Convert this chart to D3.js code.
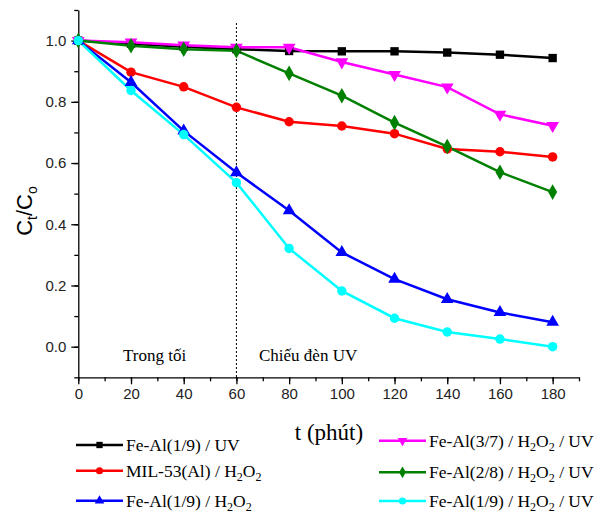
<!DOCTYPE html>
<html>
<head>
<meta charset="utf-8">
<script src="https://cdn.jsdelivr.net/npm/d3@7"></script>
<style>
  body { margin: 0; background: #fff; }
  .tick text { font-family: "Liberation Sans", Arial, sans-serif; font-size: 15px; fill: #222; }
  .serif { font-family: "Liberation Serif", "Times New Roman", serif; }
</style>
</head>
<body>
<div class="chart-container"></div>
<script>
// Data
const times = [0, 20, 40, 60, 80, 100, 120, 140, 160, 180];
const feAl19UV     = [1.0, 0.99, 0.98, 0.972, 0.966, 0.965, 0.965, 0.961, 0.954, 0.943];
const mil53H2O2    = [1.0, 0.897, 0.849, 0.782, 0.735, 0.721, 0.696, 0.646, 0.637, 0.620];
const feAl19H2O2   = [1.0, 0.864, 0.705, 0.569, 0.445, 0.308, 0.221, 0.155, 0.112, 0.080];
const feAl37H2O2UV = [1.0, 0.995, 0.985, 0.978, 0.978, 0.930, 0.889, 0.848, 0.759, 0.722];
const feAl28H2O2UV = [1.0, 0.983, 0.972, 0.967, 0.893, 0.820, 0.732, 0.654, 0.570, 0.505];
const feAl19H2O2UV = [1.0, 0.837, 0.693, 0.536, 0.321, 0.182, 0.093, 0.048, 0.025, 0.0];
const xTicks = [0, 20, 40, 60, 80, 100, 120, 140, 160, 180];
const yTicks = [0.0, 0.2, 0.4, 0.6, 0.8, 1.0];

const series = [
  { name: "Fe-Al(1/9) / UV", values: feAl19UV, color: "#000000", symbol: d3.symbolSquare, col: 0, row: 0 },
  { name: "MIL-53(Al) / H2O2", values: mil53H2O2, color: "#ff0000", symbol: d3.symbolCircle, col: 0, row: 1 },
  { name: "Fe-Al(1/9) / H2O2", values: feAl19H2O2, color: "#0000ff", symbol: d3.symbolTriangle, col: 0, row: 2 },
  { name: "Fe-Al(3/7) / H2O2 / UV", values: feAl37H2O2UV, color: "#ff00ff", symbol: d3.symbolTriangle, flip: true, col: 1, row: 0 },
  { name: "Fe-Al(2/8) / H2O2 / UV", values: feAl28H2O2UV, color: "#008000", symbol: d3.symbolDiamond, col: 1, row: 1 },
  { name: "Fe-Al(1/9) / H2O2 / UV", values: feAl19H2O2UV, color: "#00ffff", symbol: d3.symbolCircle, col: 1, row: 2 }
];

const width = 597, height = 516;
const svg = d3.select('.chart-container').append('svg')
  .attr("width", width).attr("height", height);

// Scales
const x = d3.scaleLinear().domain([0, 190]).range([78.3, 579]);
const y = d3.scaleLinear().domain([-0.1, 1.1]).range([377.3, 10]);

// Axes (minor ticks first, then major)
svg.append("g").attr("transform", `translate(0,${y(-0.1)})`)
  .call(d3.axisBottom(x).tickValues(d3.range(0, 191, 10)).tickSize(4).tickFormat(""))
  .call(g => g.select(".domain").remove());
svg.append("g").attr("transform", `translate(0,${y(-0.1)})`)
  .call(d3.axisBottom(x).tickValues(xTicks).tickSize(7).tickPadding(4).tickSizeOuter(0));

svg.append("g").attr("transform", `translate(${x(0)},0)`)
  .call(d3.axisLeft(y).tickValues(d3.range(-0.1, 1.11, 0.1)).tickSize(4).tickFormat(""))
  .call(g => g.select(".domain").remove());
svg.append("g").attr("transform", `translate(${x(0)},0)`)
  .call(d3.axisLeft(y).tickValues(yTicks).tickSize(7).tickPadding(5).tickSizeOuter(0).tickFormat(d3.format(".1f")));

svg.selectAll(".domain, .tick line").attr("stroke", "#000").attr("stroke-width", 1.3);

// Dotted separator at t = 60
svg.append("line")
  .attr("x1", x(60)).attr("x2", x(60))
  .attr("y1", 23).attr("y2", y(-0.1))
  .attr("stroke", "#000").attr("stroke-width", 1)
  .attr("stroke-dasharray", "2,2");

// Annotations
svg.append("text").attr("class", "serif")
  .attr("x", 123).attr("y", 361).attr("font-size", 17)
  .text("Trong tối");
svg.append("text").attr("class", "serif")
  .attr("x", 259).attr("y", 361).attr("font-size", 17)
  .text("Chiếu đèn UV");

// Lines and markers
const line = d3.line().x((d, i) => x(times[i])).y(d => y(d));
const sym = d3.symbol().size(70);

series.forEach(s => {
  svg.append("path")
    .attr("d", line(s.values))
    .attr("fill", "none")
    .attr("stroke", s.color)
    .attr("stroke-width", 2.5);
});
series.forEach(s => {
  svg.append("g").selectAll("path")
    .data(s.values)
    .enter().append("path")
    .attr("d", sym.type(s.symbol)())
    .attr("transform", (d, i) => `translate(${x(times[i])},${y(d)})` + (s.flip ? " rotate(180)" : ""))
    .attr("fill", s.color);
});

// Axis titles
svg.append("text").attr("class", "serif")
  .attr("x", 329).attr("y", 440)
  .attr("text-anchor", "middle").attr("font-size", 23)
  .text("t (phút)");

const yLabel = svg.append("text")
  .attr("transform", "translate(32,211) rotate(-90)")
  .attr("text-anchor", "middle")
  .attr("font-family", "Liberation Sans, Arial, sans-serif")
  .attr("font-size", 22);
yLabel.append("tspan").text("C");
yLabel.append("tspan").attr("font-size", 14).attr("dy", 5).text("t");
yLabel.append("tspan").attr("dy", -5).text("/C");
yLabel.append("tspan").attr("font-size", 14).attr("dy", 5).text("o");

// Legend
const legX = [76, 379], legY = [[445, 470.7, 500.7], [440.7, 472.3, 501]];
function writeLabel(el, name) {
  // split into plain text and "2" subscripts of H2O2
  const parts = name.replace(/H2O2/g, "H|2|O|2|").split("|");
  let shift = 0;
  parts.forEach((p, i) => {
    if (!p.length) return;
    const isSub = p === "2";
    const target = isSub ? 4 : 0;
    const ts = el.append("tspan").text(p).attr("dy", target - shift);
    if (isSub) ts.attr("font-size", 12);
    shift = target;
  });
}
series.forEach(s => {
  const lx = legX[s.col], ly = legY[s.col][s.row];
  svg.append("line")
    .attr("x1", lx).attr("x2", lx + 47)
    .attr("y1", ly).attr("y2", ly)
    .attr("stroke", s.color).attr("stroke-width", 2.5);
  svg.append("path")
    .attr("d", d3.symbol().type(s.symbol).size(40)())
    .attr("transform", `translate(${lx + 23.5},${ly})` + (s.flip ? " rotate(180)" : ""))
    .attr("fill", s.color);
  const t = svg.append("text").attr("class", "serif")
    .attr("x", lx + 50).attr("y", ly + 6)
    .attr("font-size", 17.5);
  writeLabel(t, s.name);
});
</script>
</body>
</html>
